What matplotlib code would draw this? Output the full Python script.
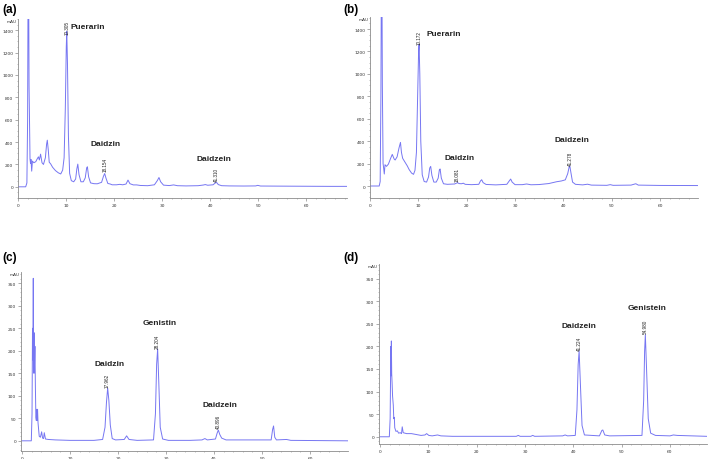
import matplotlib
matplotlib.use('Agg')
import matplotlib.pyplot as plt
from matplotlib.ticker import MultipleLocator

# chromatogram traces: (retention time in min, absorbance in mAU)
trace_a = [(0, 0), (1.6, 0), (1.85, 35), (2.0, 600), (2.15, 2500), (2.3, 900), (2.5, 250), (2.6, 210),
           (2.7, 245), (2.85, 140), (3.0, 230), (3.3, 215), (3.7, 225), (4.0, 250), (4.25, 268), (4.45, 240),
           (4.7, 292), (5.0, 215), (5.3, 200), (5.7, 260), (5.95, 380), (6.1, 417), (6.3, 330), (6.5, 220),
           (6.8, 205), (7.2, 175), (7.8, 145), (8.4, 125), (8.9, 115), (9.3, 150), (9.6, 260), (9.85, 700),
           (10.05, 1250), (10.15, 1390), (10.3, 1100), (10.5, 450), (10.75, 120), (11.1, 55), (11.6, 45),
           (12.0, 70), (12.25, 160), (12.45, 203), (12.7, 110), (13.1, 45), (13.6, 45), (14.0, 80), (14.3, 170),
           (14.45, 179), (14.7, 90), (15.1, 35), (15.8, 28), (16.5, 27), (17.4, 40), (17.8, 95), (18.05, 119),
           (18.3, 80), (18.7, 30), (19.2, 25), (19.6, 18), (20.5, 18), (21.2, 22), (21.8, 18), (22.5, 25),
           (22.9, 60), (23.3, 28), (24.0, 17), (24.7, 17), (25.5, 12), (27.0, 10), (28.4, 18), (29.0, 55),
           (29.35, 83), (29.7, 45), (30.3, 15), (31.5, 11), (32.4, 17), (33.2, 10), (35.0, 8), (37.5, 10),
           (38.6, 16), (39.0, 20), (39.5, 14), (40.6, 18), (41.1, 35), (41.35, 39), (41.7, 20), (42.4, 10),
           (44.0, 8), (47.0, 7), (49.5, 8), (49.9, 13), (50.5, 7), (55.0, 6), (60.0, 5), (65.0, 4), (68.5, 4)]

trace_b = [(0, 0), (1.9, 0), (2.1, 40), (2.25, 800), (2.4, 2500), (2.55, 900), (2.7, 200), (2.8, 166),
           (2.95, 107), (3.1, 190), (3.4, 175), (3.8, 195), (4.2, 240), (4.6, 282), (5.0, 240), (5.2, 232),
           (5.6, 260), (6.0, 340), (6.3, 389), (6.5, 300), (6.75, 247), (7.2, 215), (7.7, 180), (8.1, 146),
           (8.6, 115), (9.0, 104), (9.3, 140), (9.6, 300), (9.85, 800), (10.05, 1200), (10.15, 1265),
           (10.3, 1000), (10.5, 400), (10.8, 100), (11.2, 40), (11.7, 35), (12.1, 80), (12.35, 160),
           (12.55, 175), (12.8, 95), (13.2, 35), (13.7, 35), (14.1, 70), (14.35, 145), (14.5, 152), (14.75, 70),
           (15.2, 20), (16.0, 15), (17.5, 18), (17.9, 26), (18.1, 30), (18.4, 22), (18.9, 20), (19.3, 25),
           (19.7, 15), (21.0, 12), (22.5, 15), (22.85, 45), (23.1, 56), (23.4, 30), (24.0, 14), (26.0, 10),
           (28.3, 15), (28.8, 45), (29.1, 62), (29.4, 35), (30.0, 12), (31.5, 12), (32.4, 18), (33.3, 11),
           (35.0, 13), (37.0, 22), (38.6, 38), (39.6, 45), (40.4, 55), (40.9, 110), (41.2, 170), (41.35, 175),
           (41.6, 110), (41.9, 35), (42.5, 15), (44.0, 10), (45.0, 16), (45.8, 8), (49.0, 6), (49.7, 12),
           (50.3, 6), (54.0, 8), (54.8, 18), (55.0, 20), (55.5, 8), (60.0, 5), (67.8, 4)]

trace_c = [(0, 0), (1.95, 0), (2.1, 60), (2.2, 250), (2.25, 180), (2.3, 240), (2.36, 361), (2.42, 200),
           (2.5, 150), (2.55, 240), (2.62, 170), (2.7, 210), (2.8, 120), (2.9, 52), (3.0, 45), (3.05, 70),
           (3.15, 45), (3.25, 70), (3.35, 40), (3.6, 10), (3.85, 8), (4.1, 20), (4.3, 6), (4.5, 5), (4.65, 18),
           (4.9, 4), (5.5, 3), (7.0, 2), (10.0, 1), (15.0, 1), (16.8, 3), (17.3, 30), (17.6, 85), (17.85, 117),
           (18.1, 90), (18.4, 35), (18.8, 5), (19.5, 2), (21.3, 3), (21.8, 11), (22.3, 3), (24.0, 1),
           (27.4, 2), (27.8, 60), (28.05, 170), (28.26, 204), (28.5, 130), (28.8, 30), (29.3, 4), (30.5, 1),
           (35.0, 1), (37.5, 2), (38.1, 5), (38.6, 2), (40.3, 4), (40.65, 17), (40.9, 24), (41.2, 14),
           (41.6, 6), (42.5, 2), (51.9, 2), (52.2, 25), (52.4, 33), (52.65, 8), (53.0, 2), (55.1, 3),
           (56.0, 1), (67.9, 0)]

trace_d = [(0, 0), (1.93, 0), (2.1, 40), (2.25, 200), (2.3, 135), (2.35, 212), (2.42, 140), (2.5, 120),
           (2.6, 90), (2.75, 70), (2.85, 40), (2.97, 43), (3.05, 20), (3.3, 12), (3.6, 13), (3.85, 8),
           (4.2, 9), (4.45, 7), (4.6, 22), (4.8, 9), (5.5, 7), (6.5, 7), (7.5, 5), (8.5, 3), (9.3, 4),
           (9.65, 7), (10.1, 3), (10.8, 2), (11.9, 4), (12.6, 2), (15.0, 1), (28.2, 1), (28.6, 3), (29.0, 1),
           (31.2, 1), (31.6, 3), (32.0, 1), (37.8, 2), (38.3, 4), (38.8, 2), (40.4, 3), (40.75, 60),
           (41.0, 160), (41.2, 190), (41.45, 120), (41.8, 25), (42.3, 4), (45.4, 2), (45.9, 14), (46.1, 15),
           (46.5, 4), (47.5, 2), (54.2, 3), (54.55, 80), (54.75, 190), (54.9, 226), (55.15, 150), (55.5, 40),
           (56.0, 8), (57.0, 3), (60.0, 2), (60.7, 4), (61.5, 3), (67.6, 1)]

# compound names with label centre (min, mAU)
names_a = [('Puerarin', 14.5, 1430), ('Daidzin', 18.2, 390), ('Daidzein', 40.9, 253)]
names_b = [('Puerarin', 15.2, 1361), ('Daidzin', 18.5, 253), ('Daidzein', 41.8, 419)]
names_c = [('Daidzin', 18.2, 172), ('Genistin', 28.6, 262), ('Daidzein', 41.25, 80)]
names_d = [('Daidzein', 41.2, 247), ('Genistein', 55.3, 285)]

# retention time labels: (text, min, mAU at the label's lower end)
rt_a = [('10.305', 10.15, 1364), ('18.154', 18.05, 143), ('41.310', 41.35, 54)]
rt_b = [('10.172', 10.15, 1266), ('18.081', 18.1, 48), ('41.278', 41.35, 187)]
rt_c = [('17.962', 17.85, 119), ('28.204', 28.26, 206), ('40.896', 40.9, 28)]
rt_d = [('41.224', 41.2, 191), ('54.980', 54.9, 229)]

LINE = '#7676f2'
GREY = '#8c8c8c'


def chromatogram(fig, rect, trace, names, rts, xlim, ylim, ymajor, yminor, tag, tagpos):
    ax = fig.add_axes(rect)
    t = [p[0] for p in trace]
    v = [p[1] for p in trace]
    ax.plot(t, v, color=LINE, linewidth=0.7)
    ax.set_xlim(*xlim)
    ax.set_ylim(*ylim)
    for side in ['top', 'right']:
        ax.spines[side].set_visible(False)
    for side in ['left', 'bottom']:
        ax.spines[side].set_color(GREY)
        ax.spines[side].set_linewidth(0.6)
    ax.xaxis.set_major_locator(MultipleLocator(10))
    ax.xaxis.set_minor_locator(MultipleLocator(2))
    ax.yaxis.set_major_locator(MultipleLocator(ymajor))
    ax.yaxis.set_minor_locator(MultipleLocator(yminor))
    ax.tick_params(which='major', length=2, width=0.5, color=GREY, labelsize=3.2, pad=1.5, labelcolor='#333333')
    ax.tick_params(which='minor', length=1, width=0.4, color=GREY)
    ax.set_yticks([y for y in ax.get_yticks() if 0 <= y <= ylim[1] - ymajor * 0.3])
    ax.set_xticks([x for x in range(0, 70, 10) if x <= xlim[1]])
    ax.text(-0.004, 1.0, 'mAU', transform=ax.transAxes, ha='right', va='top', fontsize=3, color='#333333')
    for name, x, y in names:
        ax.text(x, y, name, ha='center', va='center', fontsize=6, fontweight='bold',
                family='Liberation Sans', color='#222222')
    for label, x, y in rts:
        ax.text(x, y, label, rotation=90, ha='center', va='bottom', fontsize=3.3,
                family='Liberation Sans', color='#222222')
    fig.text(tagpos[0], tagpos[1], tag, ha='left', va='center', fontsize=8.5, fontweight='bold',
             family='Liberation Sans')
    return ax


def main():
    fig = plt.figure(figsize=(7.09, 4.6), dpi=100)
    chromatogram(fig, [0.0254, 0.5674, 0.464, 0.389], trace_a, names_a, rt_a,
                 (0, 68.5), (-100, 1500), 200, 50, '(a)', (0.004, 0.978))
    chromatogram(fig, [0.5219, 0.5674, 0.4622, 0.3928], trace_b, names_b, rt_b,
                 (0, 67.8), (-107, 1505), 200, 50, '(b)', (0.484, 0.978))
    chromatogram(fig, [0.0296, 0.018, 0.4612, 0.3885], trace_c, names_c, rt_c,
                 (-0.2, 67.9), (-22, 375), 50, 10, '(c)', (0.004, 0.44))
    chromatogram(fig, [0.5346, 0.0326, 0.4622, 0.391], trace_d, names_d, rt_d,
                 (-0.2, 67.6), (-16, 382), 50, 10, '(d)', (0.484, 0.44))
    fig.savefig('out.png', dpi=100)
    plt.close(fig)


if __name__ == "__main__":
    main()
